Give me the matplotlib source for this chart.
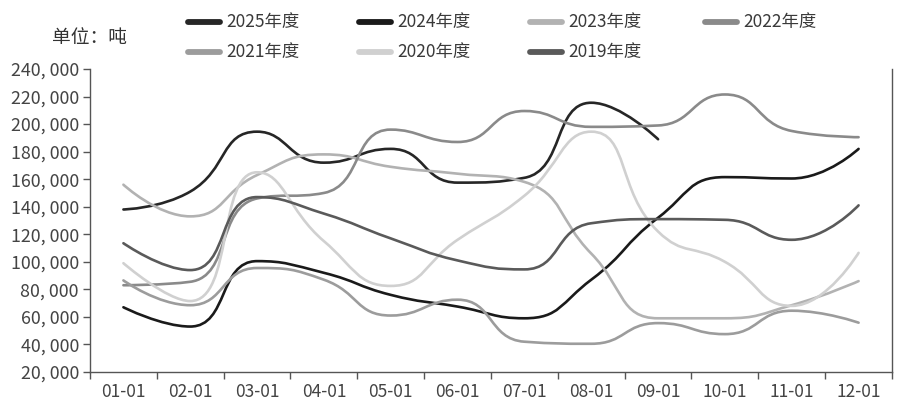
import matplotlib
matplotlib.use("Agg")
import matplotlib.pyplot as plt
from matplotlib.path import Path
from matplotlib.patches import PathPatch
from matplotlib.lines import Line2D
from matplotlib.ticker import FixedLocator, FuncFormatter
import numpy as np

plt.rcParams['font.family'] = ['Noto Sans CJK SC', 'DejaVu Sans']

categories = ['01-01', '02-01', '03-01', '04-01', '05-01', '06-01',
              '07-01', '08-01', '09-01', '10-01', '11-01', '12-01']
series_names = ['2025年度', '2024年度', '2023年度', '2022年度', '2021年度', '2020年度', '2019年度']
y2025 = [138000, 151000, 194500, 172000, 182000, 157500, 161000, 215500, 189000]
y2024 = [67000, 53000, 100500, 92000, 76000, 67500, 59000, 87000, 132000, 161500, 160500, 182000]
y2023 = [156000, 133000, 163000, 178000, 169000, 164000, 158000, 106000, 59000, 59000, 68500, 86000]
y2022 = [83000, 85500, 146000, 150000, 196000, 187000, 209500, 198000, 199000, 221500, 195000, 190500]
y2021 = [86500, 68500, 95500, 87000, 61000, 72500, 42000, 40500, 55500, 47500, 64500, 55800]
y2020 = [99000, 71500, 165000, 115000, 82500, 116000, 148000, 194500, 122000, 100000, 68000, 106500]
y2019 = [113500, 94000, 147000, 135000, 117000, 101000, 94500, 128000, 131000, 130500, 116000, 141000]
series_values = [y2025, y2024, y2023, y2022, y2021, y2020, y2019]
colors = ['#262626', '#1a1a1a', '#b2b2b2', '#8a8a8a', '#9c9c9c', '#d0d0d0', '#5a5a5a']
yticks = list(range(20000, 240001, 20000))

W, H = 906, 405
fig = plt.figure(figsize=(W / 100, H / 100), dpi=100)
ax = fig.add_axes([90 / W, (H - 372) / H, (892 - 90) / W, (372 - 69) / H])
ax.set_xlim(-0.5, len(categories) - 0.5)
ax.set_ylim(20000, 240000)

# scale factors to pixel-like space for smoothing
SX = 802 / 12.0
SY = 303 / 220000.0


def smooth_path(xs, ys, smooth=0.5):
    p = [(x * SX, y * SY) for x, y in zip(xs, ys)]
    n = len(p)
    verts = [p[0]]
    codes = [Path.MOVETO]
    cp0 = p[0]
    for i in range(1, n):
        x, y = p[i]
        px, py = p[i - 1]
        if i == n - 1:
            cp1 = (x, y)
            ncp0 = None
        else:
            nx, ny = p[i + 1]
            vx = nx - px
            vy = ny - py
            lp = np.hypot(x - px, y - py)
            ln = np.hypot(nx - x, ny - y)
            ratio = ln / (ln + lp)
            ncx = x + vx * smooth * ratio
            ncy = y + vy * smooth * ratio
            ncx = min(ncx, max(nx, x)); ncy = min(ncy, max(ny, y))
            ncx = max(ncx, min(nx, x)); ncy = max(ncy, min(ny, y))
            vx = ncx - x; vy = ncy - y
            c1x = x - vx * lp / ln; c1y = y - vy * lp / ln
            c1x = min(c1x, max(px, x)); c1y = min(c1y, max(py, y))
            c1x = max(c1x, min(px, x)); c1y = max(c1y, min(py, y))
            vx = x - c1x; vy = y - c1y
            ncx = x + vx * ln / lp; ncy = y + vy * ln / lp
            cp1 = (c1x, c1y)
            ncp0 = (ncx, ncy)
        verts += [cp0, cp1, (x, y)]
        codes += [Path.CURVE4] * 3
        cp0 = ncp0
    verts = [(vx / SX, vy / SY) for vx, vy in verts]
    return Path(verts, codes)


order = [6, 5, 4, 3, 2, 1, 0]
for k in order:
    vals = series_values[k]
    xs = np.arange(len(vals))
    path = smooth_path(xs, vals)
    ax.add_patch(PathPatch(path, facecolor='none', edgecolor=colors[k],
                           lw=1.9, capstyle='round', joinstyle='round', zorder=3 + k * 0.01))

# axes styling
ax.spines['top'].set_visible(False)
for s in ['left', 'bottom', 'right']:
    ax.spines[s].set_color('#555555')
    ax.spines[s].set_linewidth(1.0)

ax.xaxis.set_major_locator(FixedLocator(np.arange(len(categories))))
ax.set_xticklabels(categories)
ax.xaxis.set_minor_locator(FixedLocator(np.arange(-0.5, len(categories), 1.0)))
ax.tick_params(axis='x', which='major', length=0, pad=8, labelsize=12.5, labelcolor='#444444')
ax.tick_params(axis='x', which='minor', length=5, width=1.0, color='#555555', direction='out')
ax.set_yticks(yticks)
ax.yaxis.set_major_formatter(FuncFormatter(lambda v, p: '{:,}'.format(int(v)).replace(',', ', ')))
ax.tick_params(axis='y', which='major', length=5, width=1.0, color='#555555', pad=3,
               labelsize=12.8, labelcolor='#444444')
ax.tick_params(axis='y', right=False)

# unit label
fig.text(52 / W, 1 - 38 / H, '单位：吨', fontsize=13.5, color='#333333', va='center', ha='left')

# legend (manual, 4 + 3 layout)
col_x = [188, 359, 530, 705]
row_y = [22, 52]
for idx, (name, c) in enumerate(zip(series_names, colors)):
    r = idx // 4
    cidx = idx % 4
    x0 = col_x[cidx]
    yy = 1 - row_y[r] / H
    fig.add_artist(Line2D([x0 / W, (x0 + 32) / W], [yy, yy], color=c, lw=4.2,
                          solid_capstyle='round', transform=fig.transFigure))
    fig.text((x0 + 38) / W, yy, name, fontsize=12.5, color='#3a3a3a', va='center', ha='left')

fig.savefig('out.png', dpi=100)
